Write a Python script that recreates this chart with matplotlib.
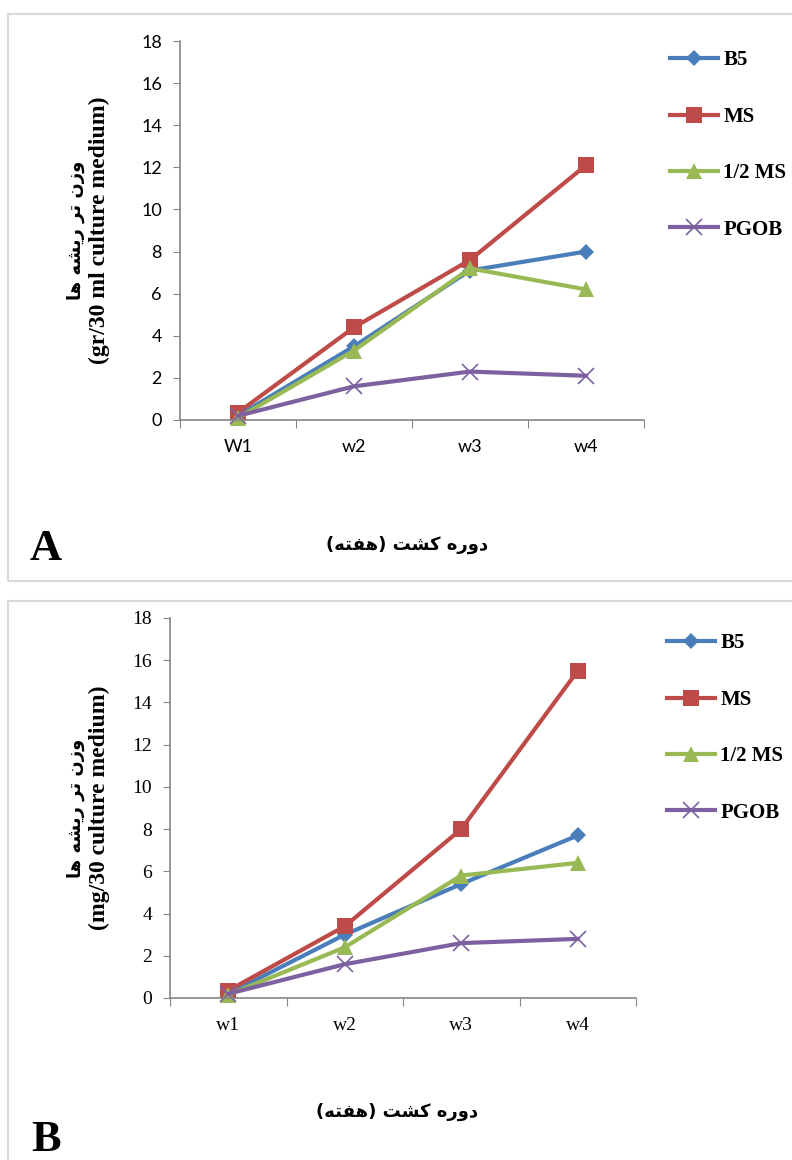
import matplotlib
matplotlib.use("Agg")
import matplotlib.pyplot as plt
from matplotlib.patches import Rectangle

# weeks (categories)
weeks_a = ["W1", "w2", "w3", "w4"]
weeks_b = ["w1", "w2", "w3", "w4"]
series_names = ["B5", "MS", "1/2 MS", "PGOB"]

# panel A values (gr/30 ml culture medium)
b5_a = [0.2, 3.5, 7.1, 8.0]
ms_a = [0.35, 4.4, 7.6, 12.1]
half_ms_a = [0.1, 3.3, 7.2, 6.2]
pgob_a = [0.2, 1.6, 2.3, 2.1]

# panel B values (mg/30 culture medium)
b5_b = [0.2, 3.0, 5.4, 7.7]
ms_b = [0.35, 3.4, 8.0, 15.5]
half_ms_b = [0.15, 2.4, 5.8, 6.4]
pgob_b = [0.2, 1.6, 2.6, 2.8]

yticks = [0, 2, 4, 6, 8, 10, 12, 14, 16, 18]

# persian text written in visual order with presentation forms
ylab_fa = "\ufe8e\ufeeb \ufeea\ufeb8\ufef3\ufead \ufeae\ufe97 \ufee5\ufeaf\ufeed"
xlab_fa = "(\ufeea\ufe98\ufed4\ufeeb) \ufe96\ufeb8\ufb90 \ufee9\ufead\ufeed\ufea9"

colors = ["#4A7EBB", "#BE4B48", "#98B954", "#7D60A0"]
markers = ["D", "s", "^", "x"]
msizes = [8, 12, 12, 12]

W, H = 792, 1160
fig = plt.figure(figsize=(W / 100, H / 100), dpi=100)


def fx(px):
    return px / W


def fy(py):
    return 1 - py / H


def panel(box, data, cats, tickfont, ticksize, ylab_en, leg_x, leg_y, title_xy, letter_xy, letter):
    l, t, r, b = box
    ax = fig.add_axes([fx(l), fy(b), fx(r - l), (b - t) / H])
    xs = [0.5, 1.5, 2.5, 3.5]
    lines = []
    for vals, c, m, ms in zip(data, colors, markers, msizes):
        mew = 1.2 if m == "x" else 0
        ln, = ax.plot(xs, vals, color=c, lw=3, marker=m, markersize=ms,
                      markeredgewidth=mew, markeredgecolor=c if m == "x" else "none",
                      solid_joinstyle="round", clip_on=False)
        lines.append(ln)
    ax.set_xlim(0, 4)
    ax.set_ylim(0, 18)
    ax.set_yticks(yticks)
    ax.set_xticks([0, 1, 2, 3, 4])
    ax.set_xticklabels([])
    ax.set_xticks(xs, minor=True)
    ax.set_xticklabels(cats, minor=True)
    ax.tick_params(axis="x", which="minor", length=0, pad=14)
    ax.tick_params(axis="x", which="major", length=6, direction="out", color="#868686")
    ax.tick_params(axis="y", length=5, direction="out", color="#868686", pad=8)
    for lab in ax.get_yticklabels() + ax.get_xticklabels(minor=True):
        lab.set_fontfamily(tickfont)
        lab.set_fontsize(ticksize)
    for s in ["top", "right"]:
        ax.spines[s].set_visible(False)
    for s in ["left", "bottom"]:
        ax.spines[s].set_color("#868686")
        ax.spines[s].set_linewidth(1.2)
    # y label: persian line and english line
    yc = fy((t + b) / 2)
    fig.text(fx(76), yc, ylab_fa, rotation=90, ha="center", va="center",
             family="DejaVu Sans", fontweight="bold", fontsize=13)
    fig.text(fx(99), yc, ylab_en, rotation=90, ha="center", va="center",
             family="Liberation Serif", fontweight="bold", fontsize=17)
    fig.legend(lines, series_names, loc="upper left", bbox_to_anchor=(fx(leg_x), fy(leg_y)),
               frameon=False, prop={"family": "Liberation Serif", "weight": "bold", "size": 15},
               handlelength=2.3, handletextpad=0.25, labelspacing=1.75, borderaxespad=0)
    fig.text(fx(title_xy[0]), fy(title_xy[1]), xlab_fa, ha="center", va="center",
             family="DejaVu Sans", fontweight="bold", fontsize=13)
    fig.text(fx(letter_xy[0]), fy(letter_xy[1]), letter, ha="center", va="center",
             family="Liberation Serif", fontweight="bold", fontsize=32)
    return ax


# panel frames
fig.patches.append(Rectangle((fx(8), fy(581)), fx(800), (581 - 14) / H, transform=fig.transFigure,
                             fill=False, edgecolor="#d9d9d9", lw=1.5))
fig.patches.append(Rectangle((fx(8), fy(1170)), fx(800), (1170 - 601) / H, transform=fig.transFigure,
                             fill=False, edgecolor="#d9d9d9", lw=1.5))

panel((180, 41, 644, 420), [b5_a, ms_a, half_ms_a, pgob_a], weeks_a, "Lato", 13,
      "(gr/30 ml culture medium)", 662, 42, (407, 545), (46, 549), "A")
panel((170, 618, 636, 998), [b5_b, ms_b, half_ms_b, pgob_b], weeks_b, "Liberation Serif", 14,
      "(mg/30 culture medium)", 659, 625, (397, 1112), (46, 1140), "B")

fig.savefig("out.png", dpi=100)
